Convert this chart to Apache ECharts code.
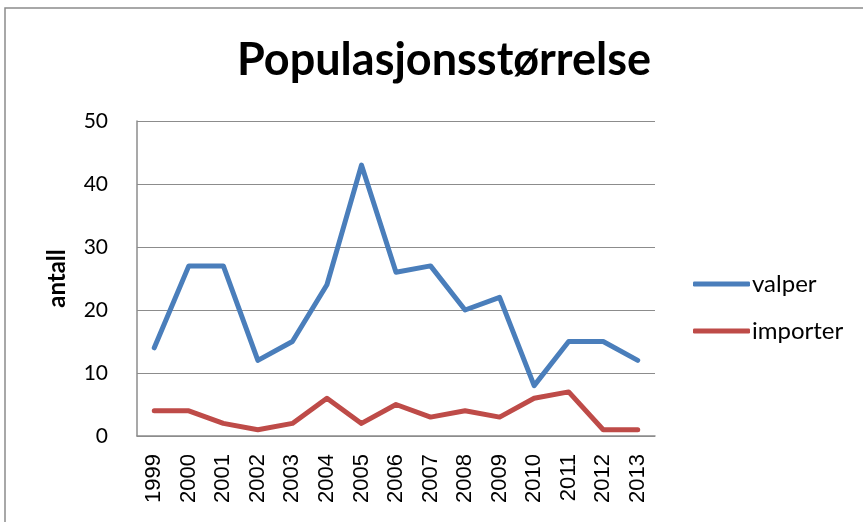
<!DOCTYPE html>
<html><head><meta charset="utf-8">
<script src="https://cdn.jsdelivr.net/npm/echarts@6/dist/echarts.min.js"></script>
<style>html,body{margin:0;padding:0;background:#fff}#c{width:863px;height:522px}</style>
</head><body><div id="c"></div>
<script>
const years = ['1999','2000','2001','2002','2003','2004','2005','2006','2007','2008','2009','2010','2011','2012','2013'];
const valper = [14,27,27,12,15,24,43,26,27,20,22,8,15,15,12];
const importer = [4,4,2,1,2,6,2,5,3,4,3,6,7,1,1];
const yTicks = [0,10,20,30,40,50];

const chart = echarts.init(document.getElementById('c'), null, {renderer:'canvas'});
chart.setOption({
  animation:false,
  backgroundColor:'#fff',
  graphic:[{type:'rect',shape:{x:5,y:8,width:900,height:600},style:{fill:'none',stroke:'#8c8c8c',lineWidth:1.5},silent:true}],
  title:{text:'Populasjonsstørrelse',left:439,top:33,textAlign:'center',
    textStyle:{fontFamily:'Lato',fontWeight:'bold',fontSize:45,color:'#000'}},
  legend:{orient:'vertical',left:688,top:267,itemWidth:57,itemHeight:5,itemGap:23,
    icon:'roundRect',
    textStyle:{fontFamily:'Lato',fontSize:24,color:'#000',padding:[0,0,0,-3]},
    data:['valper','importer']},
  grid:{left:137,right:208,top:121,bottom:86},
  xAxis:{type:'category',data:years,boundaryGap:true,
    axisLine:{lineStyle:{color:'#8c8c8c',width:1.5}},axisTick:{show:false},
    axisLabel:{rotate:90,fontFamily:'Liberation Sans',fontSize:22,color:'#000',margin:18}},
  yAxis:{type:'value',min:yTicks[0],max:yTicks[yTicks.length-1],interval:10,
    name:'antall',nameLocation:'middle',nameGap:68,nameRotate:90,
    nameTextStyle:{fontFamily:'Lato',fontWeight:'bold',fontSize:24,color:'#000'},
    axisLine:{show:true,lineStyle:{color:'#8c8c8c',width:1.5}},axisTick:{show:false},
    splitLine:{lineStyle:{color:'#8c8c8c',width:1}},
    axisLabel:{fontFamily:'Lato',fontSize:21,color:'#000',margin:29}},
  series:[
    {name:'valper',type:'line',data:valper,showSymbol:false,symbol:'none',
      lineStyle:{color:'#4a7ebb',width:5,cap:'round',join:'round'},itemStyle:{color:'#4a7ebb'}},
    {name:'importer',type:'line',data:importer,showSymbol:false,symbol:'none',
      lineStyle:{color:'#be4b48',width:5,cap:'round',join:'round'},itemStyle:{color:'#be4b48'}}
  ]
});
</script></body></html>
